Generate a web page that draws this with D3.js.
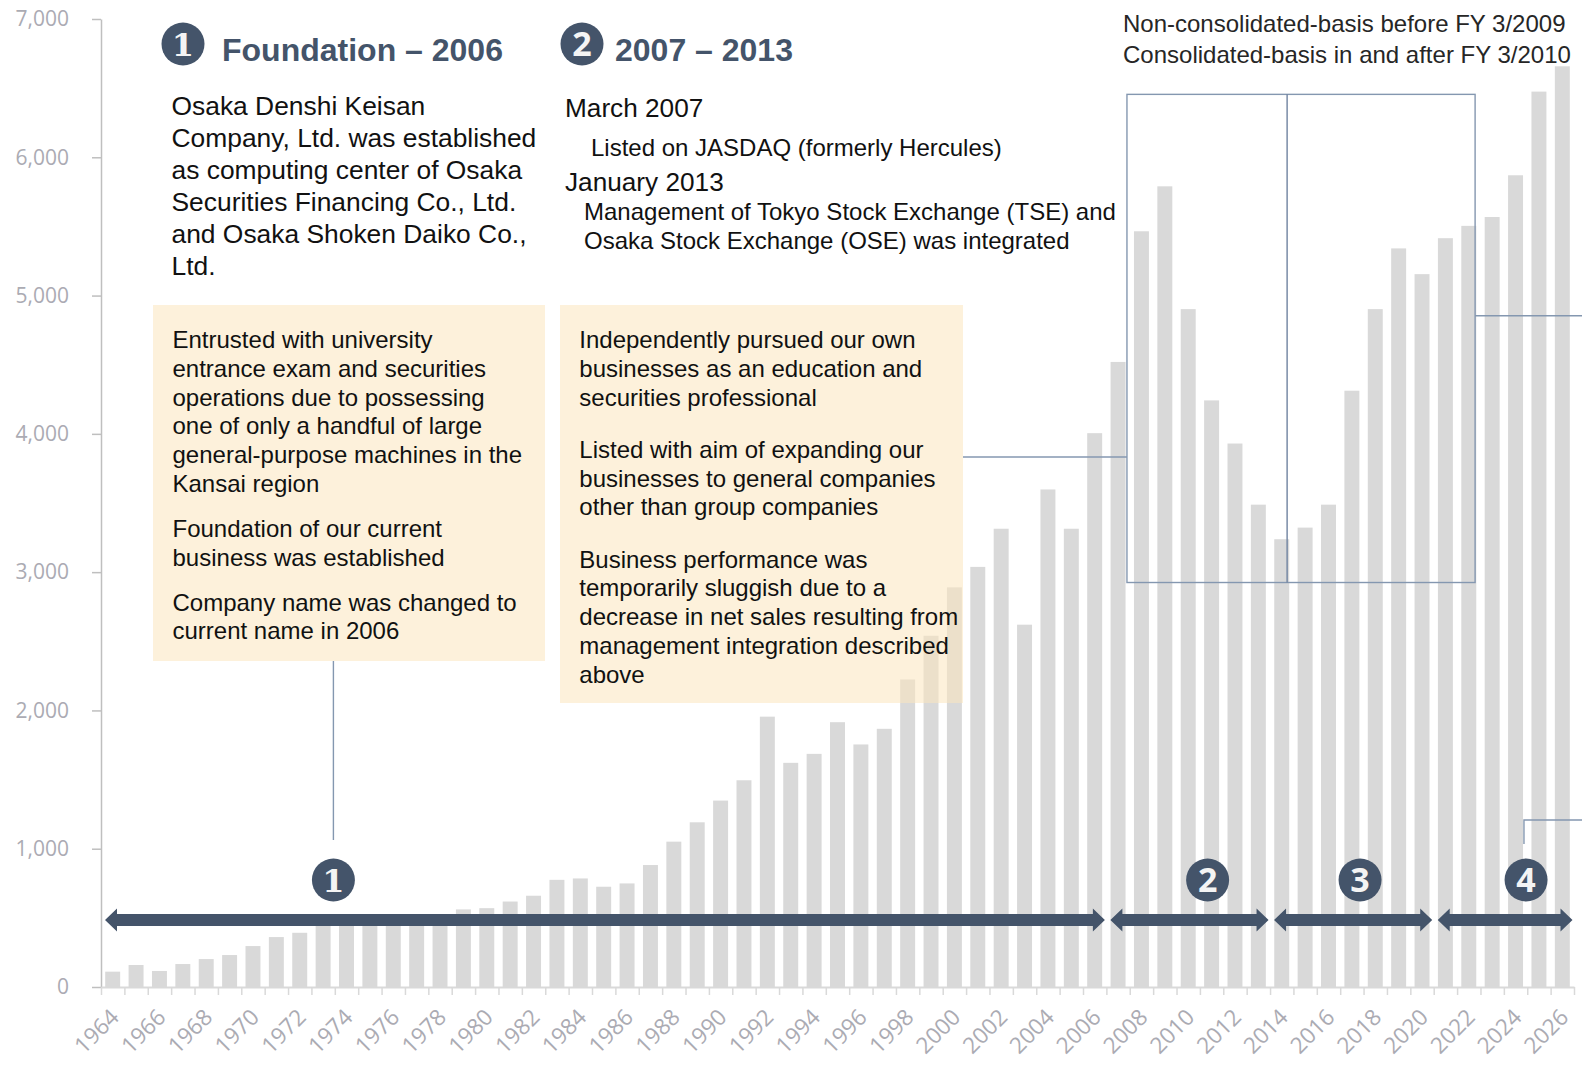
<!DOCTYPE html>
<html>
<head>
<meta charset="utf-8">
<script src="https://cdn.jsdelivr.net/npm/d3@7"></script>
<style>
  body { margin: 0; background: #fff; }
  svg { display: block; }
</style>
</head>
<body>
<div id="chart"></div>
<script>
var width = 1582;
var height = 1067;

// fiscal years on the x axis
let years = [1964, 1965, 1966, 1967, 1968, 1969, 1970, 1971, 1972, 1973,
    1974, 1975, 1976, 1977, 1978, 1979, 1980, 1981, 1982, 1983,
    1984, 1985, 1986, 1987, 1988, 1989, 1990, 1991, 1992, 1993,
    1994, 1995, 1996, 1997, 1998, 1999, 2000, 2001, 2002, 2003,
    2004, 2005, 2006, 2007, 2008, 2009, 2010, 2011, 2012, 2013,
    2014, 2015, 2016, 2017, 2018, 2019, 2020, 2021, 2022, 2023,
    2024, 2025, 2026];

// net sales
let sales = [111, 159, 116, 166, 202, 231, 296, 361, 392, 470,
    485, 480, 490, 495, 505, 561, 570, 618, 660, 775,
    785, 725, 749, 882, 1051, 1191, 1348, 1495, 1955, 1621,
    1686, 1915, 1754, 1867, 2224, 2540, 2890, 3038, 3314, 2620,
    3598, 3314, 4005, 4520, 5465, 5790, 4902, 4242, 3930, 3488,
    3238, 3322, 3488, 4312, 4902, 5341, 5155, 5415, 5504, 5568,
    5870, 6475, 6658];

let yTicks = [0, 1000, 2000, 3000, 4000, 5000, 6000, 7000];
let xLabelYears = years.filter((d, i) => i % 2 == 0);

// the four periods shown by the arrows
let periodFrom = [1964, 2007, 2014, 2021];
let periodTo = [2006, 2013, 2020, 2026];
let periodLabel = ['1', '2', '3', '4'];

let title1 = 'Foundation \u2013 2006';
let title2 = '2007 \u2013 2013';
let intro1 = ['Osaka Denshi Keisan', 'Company, Ltd. was established', 'as computing center of Osaka',
    'Securities Financing Co., Ltd.', 'and Osaka Shoken Daiko Co.,', 'Ltd.'];
let box1Text = [
    ['Entrusted with university', 'entrance exam and securities', 'operations due to possessing',
        'one of only a handful of large', 'general-purpose machines in the', 'Kansai region'],
    ['Foundation of our current', 'business was established'],
    ['Company name was changed to', 'current name in 2006']
];
let box2Text = [
    ['Independently pursued our own', 'businesses as an education and', 'securities professional'],
    ['Listed with aim of expanding our', 'businesses to general companies', 'other than group companies'],
    ['Business performance was', 'temporarily sluggish due to a', 'decrease in net sales resulting from',
        'management integration described', 'above']
];
let notes = ['Non-consolidated-basis before FY 3/2009', 'Consolidated-basis in and after FY 3/2010'];

const navy = '#44546A';
const thin = '#8497B0';
const textFont = '"Liberation Sans", Arial, sans-serif';
const axisFont = '"Open Sans", "Noto Sans", sans-serif';

let svg = d3.select('#chart').append('svg')
    .attr('width', width)
    .attr('height', height);

let x = d3.scaleBand()
    .domain(years)
    .range([101, 1574])
    .paddingInner(0.36)
    .paddingOuter(0.18);

// continuous year position: band edge of year N = xl(N)
let xl = d3.scaleLinear()
    .domain([1964, 2027])
    .range([101, 1574]);

let y = d3.scaleLinear()
    .domain([0, 7000])
    .range([987, 19]);

// bars
svg.append('g')
    .selectAll('rect')
    .data(years)
    .enter()
    .append('rect')
    .attr('x', d => x(d))
    .attr('y', (d, i) => y(sales[i]))
    .attr('width', x.bandwidth())
    .attr('height', (d, i) => y(0) - y(sales[i]))
    .attr('fill', '#D9D9D9');

// y axis
let yAxis = svg.append('g')
    .attr('transform', 'translate(101,0)')
    .call(d3.axisLeft(y).tickValues(yTicks).tickFormat(d3.format(',')).tickSize(9).tickSizeOuter(0).tickPadding(23));
yAxis.select('.domain').attr('stroke', '#BFBFBF').attr('stroke-width', 1.5);
yAxis.selectAll('.tick line').attr('stroke', '#BFBFBF').attr('stroke-width', 1.5);
yAxis.selectAll('.tick text')
    .attr('fill', '#ABABB3')
    .style('font-family', axisFont)
    .style('font-size', '21px');

// x axis with ticks between categories
let edges = years.concat([2027]);
let xAxis = svg.append('g')
    .attr('transform', 'translate(0,987)')
    .call(d3.axisBottom(xl).tickValues(edges).tickFormat('').tickSize(8).tickSizeOuter(0));
xAxis.select('.domain').attr('stroke', '#D9D9D9').attr('stroke-width', 2);
xAxis.selectAll('.tick line').attr('stroke', '#D9D9D9').attr('stroke-width', 1.5);

svg.append('g')
    .selectAll('text')
    .data(xLabelYears)
    .enter()
    .append('text')
    .attr('transform', d => 'translate(' + (x(d) + x.bandwidth() / 2 + 2) + ',1013) rotate(-45)')
    .attr('text-anchor', 'end')
    .attr('dy', '0.35em')
    .attr('fill', '#ABABB3')
    .style('font-family', axisFont)
    .style('font-size', '22.5px')
    .text(d => d);

// yellow boxes (semi transparent over the bars)
function drawBox(bx, by, bw, bh, paras, tx, firstBase, lineH, paraGap) {
    svg.append('rect')
        .attr('x', bx).attr('y', by)
        .attr('width', bw).attr('height', bh)
        .attr('fill', '#FBE5BE')
        .attr('fill-opacity', 0.55);
    let base = firstBase;
    paras.forEach(p => {
        p.forEach(line => {
            svg.append('text')
                .attr('x', tx).attr('y', base)
                .attr('fill', '#111')
                .style('font-family', textFont)
                .style('font-size', '24px')
                .text(line);
            base += lineH;
        });
        base += paraGap - lineH;
    });
}
drawBox(153, 305, 392, 356, box1Text, 172.5, 348.3, 28.7, 45);
drawBox(560, 305, 403, 398, box2Text, 579.3, 348.3, 28.7, 52.3);

// connector lines and inset frame
let inset = { from: 2007.88, to: 2022.77, split: 2014.73, top: 6455, bottom: 2925 };
let lines = svg.append('g')
    .attr('fill', 'none')
    .attr('stroke', thin)
    .attr('stroke-width', 1.4);
lines.append('rect')
    .attr('x', xl(inset.from))
    .attr('y', y(inset.top))
    .attr('width', xl(inset.to) - xl(inset.from))
    .attr('height', y(inset.bottom) - y(inset.top));
lines.append('line')
    .attr('x1', xl(inset.split)).attr('x2', xl(inset.split))
    .attr('y1', y(inset.top)).attr('y2', y(inset.bottom))
    .attr('stroke', '#6F83A0');
lines.append('line')
    .attr('x1', 963).attr('x2', xl(inset.from))
    .attr('y1', 457).attr('y2', 457);
lines.append('line')
    .attr('x1', xl(inset.to)).attr('x2', width)
    .attr('y1', 315.7).attr('y2', 315.7);
lines.append('line')
    .attr('x1', xl(1973.94)).attr('x2', xl(1973.94))
    .attr('y1', 661).attr('y2', 840);
lines.append('path')
    .attr('d', 'M' + xl(2024.86) + ',844V820H' + width);

// period arrows
let markerAt = [1973.94, 2011.33, 2017.85, 2024.95];
let arrowY = 920;
function arrowPath(x0, x1) {
    let s = 6, hh = 11.5, hl = 12;
    return 'M' + x0 + ',' + arrowY +
        'L' + (x0 + hl) + ',' + (arrowY - hh) +
        'L' + (x0 + hl) + ',' + (arrowY - s) +
        'L' + (x1 - hl) + ',' + (arrowY - s) +
        'L' + (x1 - hl) + ',' + (arrowY - hh) +
        'L' + x1 + ',' + arrowY +
        'L' + (x1 - hl) + ',' + (arrowY + hh) +
        'L' + (x1 - hl) + ',' + (arrowY + s) +
        'L' + (x0 + hl) + ',' + (arrowY + s) +
        'L' + (x0 + hl) + ',' + (arrowY + hh) + 'Z';
}
svg.append('g')
    .selectAll('path')
    .data(periodFrom)
    .enter()
    .append('path')
    .attr('d', (d, i) => arrowPath(xl(d) + 4, xl(periodTo[i] + 1) - 1.5))
    .attr('fill', navy);

function numberBadge(cx, cy, label) {
    svg.append('circle')
        .attr('cx', cx).attr('cy', cy).attr('r', 21.5)
        .attr('fill', navy);
    svg.append('text')
        .attr('x', cx).attr('y', cy)
        .attr('dy', '0.36em')
        .attr('text-anchor', 'middle')
        .attr('fill', '#F4F4F4')
        .style('font-family', label == '1' ? '"DejaVu Serif", serif' : '"Open Sans", sans-serif')
        .style('font-weight', 'bold')
        .style('font-size', label == '1' ? '32px' : '34px')
        .text(label);
}
periodLabel.forEach((d, i) => numberBadge(xl(markerAt[i]), 880, d));

// headings
numberBadge(183, 44, '1');
numberBadge(582, 44, '2');
svg.append('text')
    .attr('x', 222).attr('y', 60.5)
    .attr('fill', navy)
    .style('font-family', textFont)
    .style('font-weight', 'bold')
    .style('font-size', '32px')
    .text(title1);
svg.append('text')
    .attr('x', 615).attr('y', 60.5)
    .attr('fill', navy)
    .style('font-family', textFont)
    .style('font-weight', 'bold')
    .style('font-size', '32px')
    .text(title2);

// intro text, period 1
intro1.forEach((line, i) => {
    svg.append('text')
        .attr('x', 171.5).attr('y', 115.2 + i * 32)
        .attr('fill', '#111')
        .style('font-family', textFont)
        .style('font-size', '26.4px')
        .text(line);
});

// intro text, period 2
let intro2 = [
    { t: 'March 2007', x: 565, y: 117.3, s: 26.2 },
    { t: 'Listed on JASDAQ (formerly Hercules)', x: 591, y: 156, s: 24 },
    { t: 'January 2013', x: 565, y: 191, s: 26.2 },
    { t: 'Management of Tokyo Stock Exchange (TSE) and', x: 584, y: 219.5, s: 24 },
    { t: 'Osaka Stock Exchange (OSE) was integrated', x: 584, y: 248.7, s: 24 }
];
intro2.forEach(d => {
    svg.append('text')
        .attr('x', d.x).attr('y', d.y)
        .attr('fill', '#111')
        .style('font-family', textFont)
        .style('font-size', d.s + 'px')
        .text(d.t);
});

// basis notes, top right
notes.forEach((line, i) => {
    svg.append('text')
        .attr('x', 1123).attr('y', 31.8 + i * 31.3)
        .attr('fill', '#262626')
        .style('font-family', textFont)
        .style('font-size', '24px')
        .text(line);
});
</script>
</body>
</html>
